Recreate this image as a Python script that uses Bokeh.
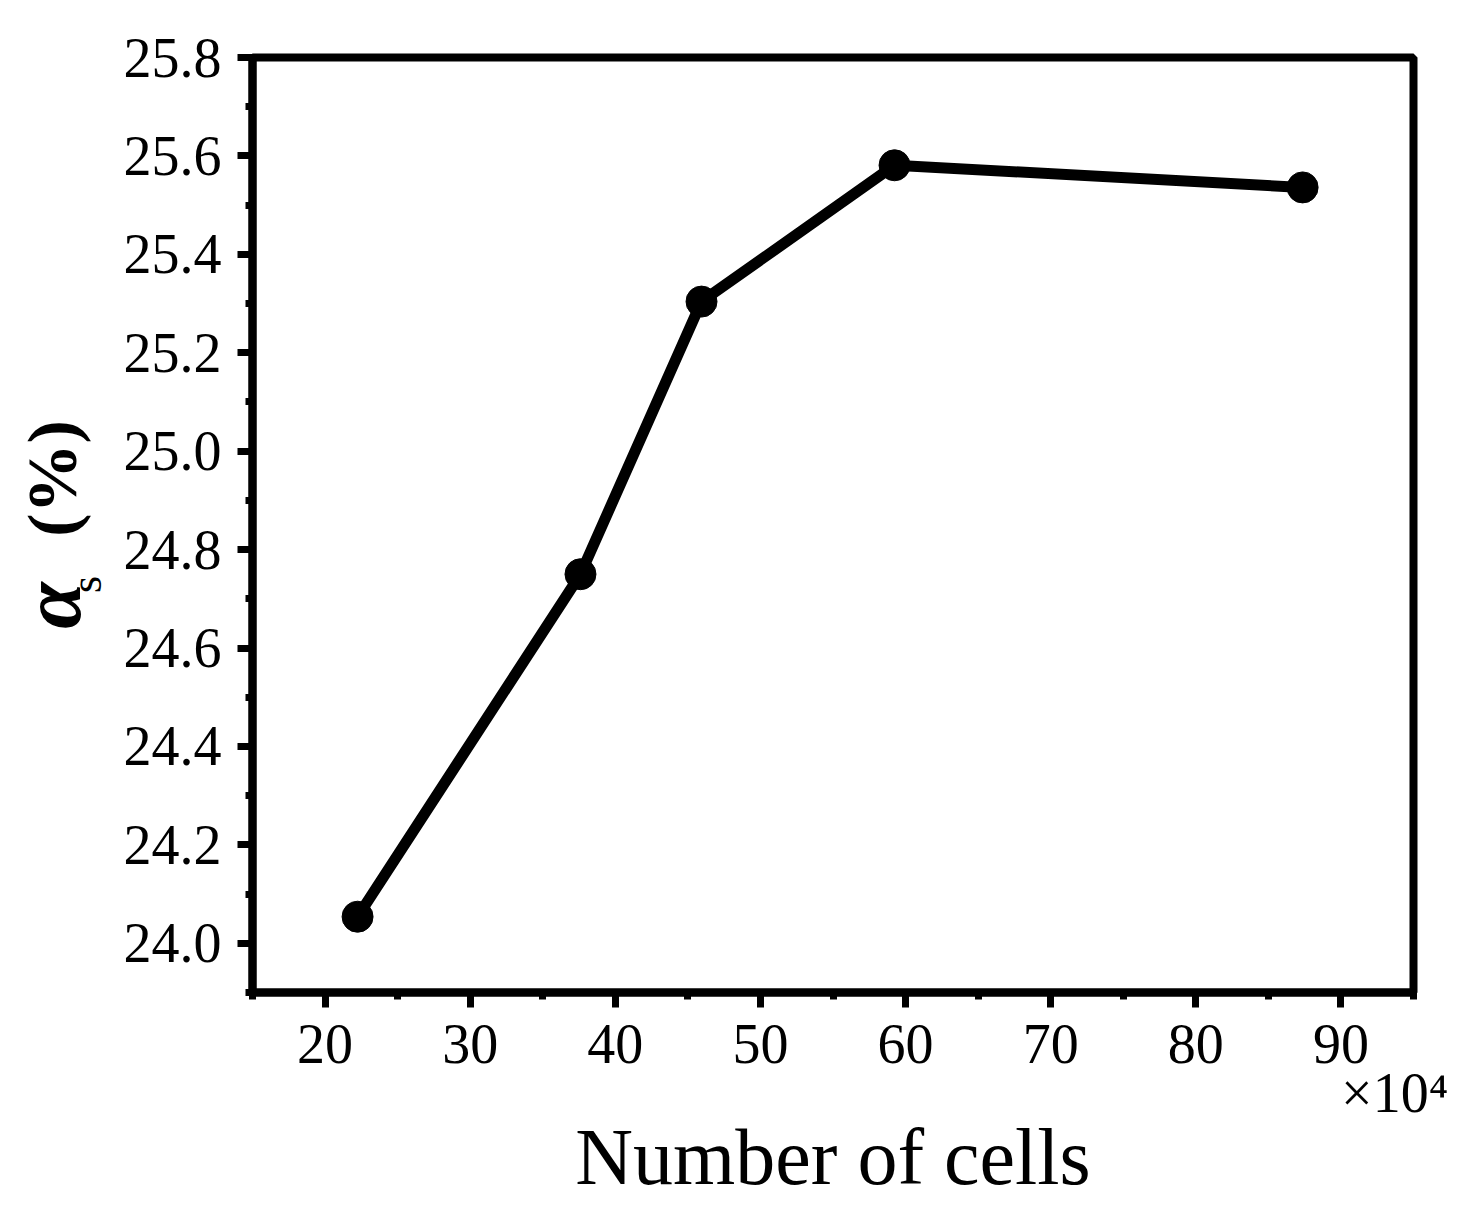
import math
from bokeh.plotting import figure
from bokeh.layouts import row
from bokeh.models import FixedTicker, LinearAxis, NumeralTickFormatter
from bokeh.core.properties import value
from bokeh.embed import file_html
from bokeh.resources import INLINE

# number of cells (x 10^4) and alpha_s (%)
cells = [22.24, 37.6, 45.94, 59.24, 87.36]
alpha_s = [24.054, 24.75, 25.304, 25.581, 25.536]

x_major = [20, 30, 40, 50, 60, 70, 80, 90]
x_minor = [15, 25, 35, 45, 55, 65, 75, 85, 95]
y_major = [24.0, 24.2, 24.4, 24.6, 24.8, 25.0, 25.2, 25.4, 25.6, 25.8]
y_minor = [23.9, 24.1, 24.3, 24.5, 24.7, 24.9, 25.1, 25.3, 25.5, 25.7]

x_title = "Number of cells"
x_multiplier = "×10⁴"
y_title_parts = ["α", "s", "(%)"]

FONT = "Liberation Serif"
STRIP_W = 110
H = 1200

p = figure(frame_width=1161, frame_height=935,
           min_border_left=252 - STRIP_W, min_border_top=57,
           min_border_right=39, min_border_bottom=0,
           x_range=(15, 95), y_range=(23.9, 25.8),
           output_backend="svg", toolbar_location=None)

p.grid.visible = False
p.outline_line_color = "black"
p.outline_line_width = 8

p.line(cells, alpha_s, line_width=11, line_color="black")
p.scatter(cells, alpha_s, size=31, fill_color="black", line_color="black")

p.xaxis.ticker = FixedTicker(ticks=x_major, minor_ticks=x_minor)
p.yaxis.ticker = FixedTicker(ticks=y_major, minor_ticks=y_minor)
p.yaxis.formatter = NumeralTickFormatter(format="0.0")

for ax in (p.xaxis[0], p.yaxis[0]):
    ax.axis_line_width = 8
    ax.axis_line_color = "black"
    ax.major_tick_line_width = 7
    ax.minor_tick_line_width = 7
    ax.major_tick_line_color = "black"
    ax.minor_tick_line_color = "black"
    ax.major_tick_out = 15
    ax.major_tick_in = 0
    ax.minor_tick_out = 7
    ax.minor_tick_in = 0
    ax.major_label_text_font = FONT
    ax.major_label_text_font_size = "56px"
    ax.major_label_text_color = "black"

p.xaxis.major_label_standoff = 17
p.yaxis.major_label_standoff = 16

# second bottom axis: only the x10^4 multiplier and the axis title
mult_x = 93.7
xb = LinearAxis(ticker=FixedTicker(ticks=[mult_x], minor_ticks=[]),
                major_label_overrides={mult_x: x_multiplier})
xb.axis_line_color = None
xb.major_tick_line_color = None
xb.minor_tick_line_color = None
xb.major_tick_out = 0
xb.major_tick_in = 0
xb.major_label_standoff = -4
xb.major_label_text_font = FONT
xb.major_label_text_font_size = "56px"
xb.major_label_text_color = "black"
xb.axis_label = x_title
xb.axis_label_text_font = FONT
xb.axis_label_text_font_size = "80px"
xb.axis_label_text_font_style = "normal"
xb.axis_label_text_color = "black"
xb.axis_label_standoff = -14
p.add_layout(xb, "below")

# left strip holding the y axis title (pixel coordinates, y measured from the bottom)
strip = figure(frame_width=STRIP_W, frame_height=H,
               min_border_left=0, min_border_right=0, min_border_top=0, min_border_bottom=0,
               x_range=(0, STRIP_W), y_range=(0, H),
               x_axis_type=None, y_axis_type=None,
               output_backend="svg", toolbar_location=None)
strip.outline_line_color = None
strip.grid.visible = False

strip.text(x=[50.5], y=[H - 548], text=[y_title_parts[0]], angle=math.pi / 2,
           text_font=value(FONT), text_font_size="84px", text_font_style="bold italic",
           text_align="center", text_baseline="middle", text_color="black")
strip.text(x=[86], y=[H - 527], text=[y_title_parts[1]], angle=math.pi / 2,
           text_font=value(FONT), text_font_size="44px",
           text_align="center", text_baseline="middle", text_color="black")
strip.text(x=[52], y=[H - 421], text=[y_title_parts[2]], angle=math.pi / 2,
           text_font=value(FONT), text_font_size="70px", text_font_style="bold",
           text_align="center", text_baseline="middle", text_color="black")

layout = row(strip, p)

open("out.html", "w").write(file_html(layout, INLINE))
